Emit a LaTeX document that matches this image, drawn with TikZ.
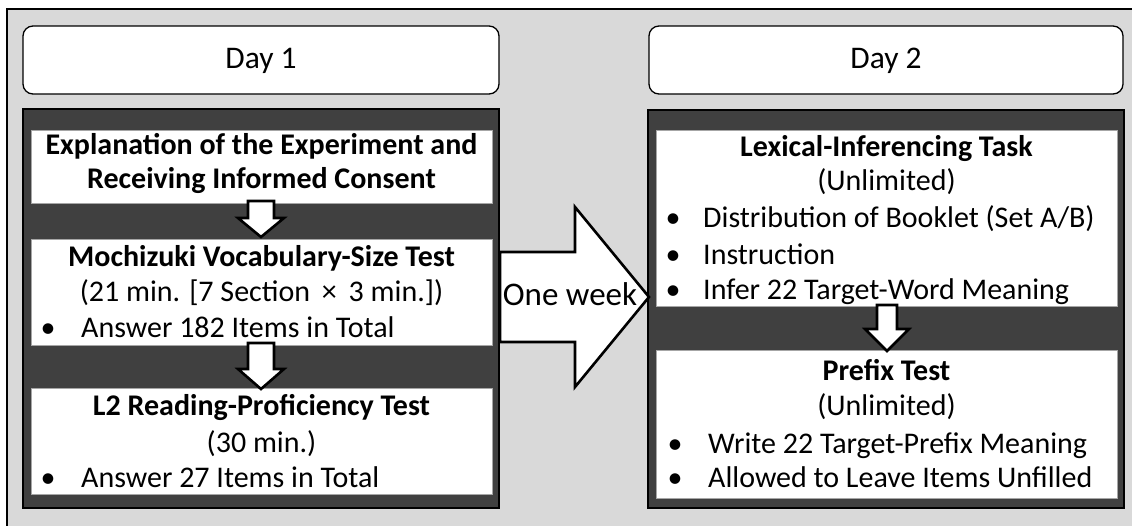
\documentclass[tikz,border=0pt]{standalone}
\usepackage{fontspec}
\setmainfont{Carlito}
\begin{document}
\begin{tikzpicture}[x=1pt,y=-1pt,
  daybox/.style={draw=black,line width=1.3pt,fill=white,rounded corners=10pt},
  panel/.style={draw=black,line width=1.2pt,fill=panelgray},
  wbox/.style={draw=gray!70,line width=0.6pt,fill=white},
  blockarrow/.style={draw=black,line width=2.6pt,fill=white,line join=miter},
  txt/.style={inner sep=0pt,anchor=base,font=\fontsize{30}{36}\selectfont},
  btxt/.style={txt,font=\fontsize{30}{36}\selectfont\bfseries},
  ltxt/.style={txt,anchor=base west},
  daytxt/.style={inner sep=0pt,font=\fontsize{31.5}{38}\selectfont}]
\definecolor{bggray}{HTML}{D9D9D9}
\definecolor{panelgray}{HTML}{404040}
\useasboundingbox (0,0) rectangle (1132,525);
\fill[white] (0,0) rectangle (1132,525);
\draw[fill=bggray,line width=1.2pt] (7,9) rectangle (1140,535);
% day headers
\draw[daybox] (23,26) rectangle (499,94);
\draw[daybox] (649,26) rectangle (1123,94);
\node[daytxt] (d1) at (261,61) {Day 1};
\node[daytxt] (d2) at (886,61) {Day 2};
% panels
\draw[panel] (23,109) rectangle (499,508);
\draw[panel] (648,110) rectangle (1124,508);
% day 1 boxes
\draw[wbox] (31,130) rectangle (492,203);
\draw[wbox] (31,239) rectangle (492,345);
\draw[wbox] (31,388) rectangle (492,494);
% day 2 boxes
\draw[wbox] (656,130) rectangle (1117,306);
\draw[wbox] (656,350) rectangle (1117,498);
% small arrows
\draw[blockarrow] (248,201) -- (274,201) -- (274,218) -- (284,218) -- (261,237) -- (238,218) -- (248,218) -- cycle;
\draw[blockarrow] (248,343) -- (274,343) -- (274,369) -- (284,369) -- (261,389) -- (238,369) -- (248,369) -- cycle;
\draw[blockarrow] (877,305) -- (897,305) -- (897,329) -- (909,329) -- (887,351) -- (865,329) -- (877,329) -- cycle;
% one week arrow
\draw[blockarrow] (500,252) -- (575,252) -- (575,207) -- (649,297) -- (575,387) -- (575,342) -- (500,342) -- cycle;
\node[txt,font=\fontsize{33}{38}\selectfont] (ow) at (570,305) {One week};
% Day 1 texts
\node[btxt] (e1) at (261.5,154) {Explanation of the Experiment and};
\node[btxt] (e2) at (261.5,188) {Receiving Informed Consent};
\node[btxt] (m1) at (261.5,266) {Mochizuki Vocabulary-Size Test};
\node[txt] (m2) at (261.5,301) {(21 min. [7 Section \,×\, 3 min.])};
\node[txt] (mb) at (48,337) {•};
\node[ltxt] (m3) at (81,337) {Answer 182 Items in Total};
\node[btxt] (r1) at (261.5,415) {L2 Reading-Proficiency Test};
\node[txt] (r2) at (261.5,452) {(30 min.)};
\node[txt] (rb) at (48,487) {•};
\node[ltxt] (r3) at (81,487) {Answer 27 Items in Total};
% Day 2 texts
\node[btxt] (l1) at (886.5,156) {Lexical-Inferencing Task};
\node[txt] (l2) at (886.5,190) {(Unlimited)};
\node[txt] (lb1) at (673,227) {•};
\node[ltxt] (l3) at (703,227) {Distribution of Booklet (Set A/B)};
\node[txt] (lb2) at (673,264) {•};
\node[ltxt] (l4) at (703,264) {Instruction};
\node[txt] (lb3) at (673,299) {•};
\node[ltxt] (l5) at (703,299) {Infer 22 Target-Word Meaning};
\node[btxt] (p1) at (886.5,380) {Prefix Test};
\node[txt] (p2) at (886.5,415) {(Unlimited)};
\node[txt] (pb1) at (675,453) {•};
\node[ltxt] (p3) at (708,453) {Write 22 Target-Prefix Meaning};
\node[txt] (pb2) at (675,487) {•};
\node[ltxt] (p4) at (708,487) {Allowed to Leave Items Unfilled};
\end{tikzpicture}
\end{document}
